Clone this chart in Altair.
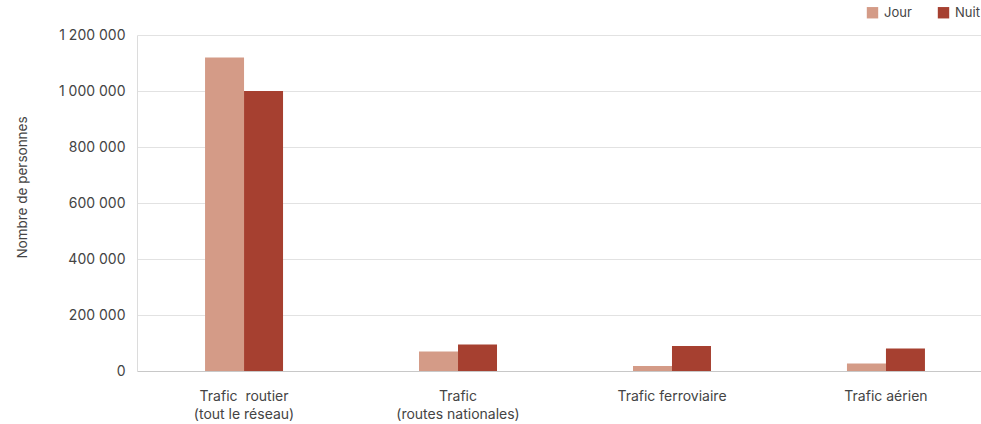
import altair as alt
import pandas as pd

categories = ["Trafic\u00a0 routier|(tout le réseau)", "Trafic|(routes nationales)", "Trafic ferroviaire", "Trafic aérien"]
periods = ["Jour", "Nuit"]
jour = [1120000, 70000, 18000, 27000]
nuit = [1000000, 95000, 89000, 80000]
colors = ["#d49b87", "#a64030"]

rows = []
for c, j, n in zip(categories, jour, nuit):
    rows.append({"cat": c, "periode": "Jour", "val": j})
    rows.append({"cat": c, "periode": "Nuit", "val": n})
df = pd.DataFrame(rows)

chart = alt.Chart(df).mark_bar().encode(
    x=alt.X("cat:N", sort=categories, title=None,
            scale=alt.Scale(paddingInner=0.6355, paddingOuter=0.318, range=[0, 856]),
            axis=alt.Axis(labelExpr="split(datum.label, '|')", labelAngle=0, ticks=False,
                          labelFont="Inter", labelFontSize=14, labelColor="#444",
                          labelPadding=18, labelLineHeight=18, domainColor="#c8c8c8",
                          labelBaseline="top")),
    xOffset=alt.XOffset("periode:N", sort=periods, scale=alt.Scale(paddingInner=0, paddingOuter=0)),
    y=alt.Y("val:Q", title="Nombre de personnes",
            scale=alt.Scale(domain=[0, 1200000], nice=False),
            axis=alt.Axis(values=[0, 200000, 400000, 600000, 800000, 1000000, 1200000],
                          labelExpr="replace(replace(format(datum.value, ','), ',', ' '), ',', ' ')",
                          ticks=False, labelFont="Inter", labelFontSize=14, labelColor="#444",
                          labelPadding=12, gridColor="#e2e2e2", domainColor="#dcdcdc",
                          titleFont="Inter", titleFontSize=13.5, titleFontWeight="normal",
                          titleColor="#444", titlePadding=29, titleY=152)),
    color=alt.Color("periode:N", sort=periods, title=None,
                    scale=alt.Scale(domain=periods, range=colors),
                    legend=alt.Legend(orient="none", legendX=729, legendY=-29, direction="horizontal",
                                      symbolType="square", symbolSize=130, symbolStrokeWidth=0,
                                      labelFont="Inter", labelFontSize=13, labelColor="#444",
                                      columnPadding=25, labelOffset=5)),
).properties(
    width=844, height=336,
    autosize=alt.AutoSizeParams(type="none"),
    padding={"left": 137, "top": 35, "right": 0, "bottom": 53},
).configure_view(stroke=None)

chart.save("out.html", embed_options={"renderer": "svg", "actions": False})
